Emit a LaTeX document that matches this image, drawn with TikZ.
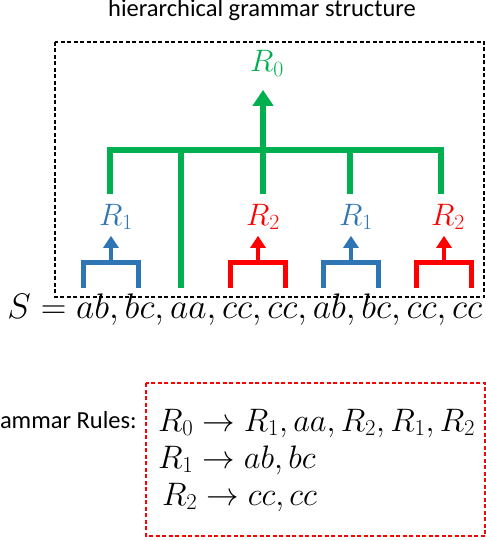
\RequirePackage{fix-cm}
\documentclass[tikz,border=0pt]{standalone}
\usepackage[no-math]{fontspec}
\setmainfont{Carlito}
\usetikzlibrary{arrows.meta, positioning}

\definecolor{ogreen}{RGB}{0,176,80}
\definecolor{oblue}{RGB}{46,117,182}
\definecolor{ored}{RGB}{255,0,0}

\begin{document}
\begin{tikzpicture}[
            x=1pt, y=-1pt,
            inner sep=0pt,
            trunk/.style={draw=ogreen, line width=5.5pt},
            bluebr/.style={draw=oblue, line width=5pt},
            redbr/.style={draw=ored, line width=5pt},
            bigup/.style={-{Triangle[width=20pt,length=16pt]}},
            smallup/.style={-{Triangle[width=15pt,length=12pt]}, line width=4pt},
            frame/.style={line width=1.2pt, dash pattern=on 4pt off 2.5pt}
        ]

        \tikzstyle{sym}=[font=\fontsize{31}{34}\selectfont]
        \tikzstyle{words}=[font=\fontsize{24.5}{28}\selectfont]
        \tikzstyle{formula}=[font=\fontsize{32.5}{36}\selectfont]

        \useasboundingbox (0,0) rectangle (486,540);

        % Tree over the sequence
        \node[words, anchor=base] (title) at (262,17) {hierarchical grammar structure};
        \draw[frame] (55,42) rectangle (484,297);

        \node[sym, text=ogreen, anchor=base] (r0) at (267,72) {$R_0$};
        \node[sym, text=oblue, anchor=base] (r1a) at (116,225) {$R_1$};
        \node[sym, text=ored, anchor=base] (r2a) at (263,225) {$R_2$};
        \node[sym, text=oblue, anchor=base] (r1b) at (356,225) {$R_1$};
        \node[sym, text=ored, anchor=base] (r2b) at (448,225) {$R_2$};

        \coordinate (bar) at (0,150);
        \coordinate (t1) at (110,194);
        \coordinate (t2) at (181,288);
        \coordinate (t3) at (263,194);
        \coordinate (t4) at (350,194);
        \coordinate (t5) at (441,194);

        \draw[trunk] (t1) -- (t1 |- bar) -- (t5 |- bar) -- (t5);
        \draw[trunk] (t2 |- bar) -- (t2);
        \draw[trunk] (t3 |- bar) -- (t3);
        \draw[trunk] (t4 |- bar) -- (t4);
        \draw[trunk, bigup, shorten >=13pt] (t3 |- bar) -- (t3 |- r0.south);

        % Brackets over the symbol pairs
        \coordinate (b1) at (111,262);
        \coordinate (b2) at (258,262);
        \coordinate (b3) at (351,262);
        \coordinate (b4) at (444,262);

        \draw[bluebr] (b1) ++(-27.5,26) |- ++(55,-26) -- ++(0,26);
        \draw[redbr] (b2) ++(-27.5,26) |- ++(55,-26) -- ++(0,26);
        \draw[bluebr] (b3) ++(-27.5,26) |- ++(55,-26) -- ++(0,26);
        \draw[redbr] (b4) ++(-27.5,26) |- ++(55,-26) -- ++(0,26);

        \draw[bluebr, smallup, shorten >=6pt] (b1) -- (b1 |- r1a.south);
        \draw[redbr, smallup, shorten >=6pt] (b2) -- (b2 |- r2a.south);
        \draw[bluebr, smallup, shorten >=6pt] (b3) -- (b3 |- r1b.south);
        \draw[redbr, smallup, shorten >=6pt] (b4) -- (b4 |- r2b.south);

        \node[anchor=base, font=\fontsize{35.5}{40}\selectfont] (seq) at (245,318)
            {$S=ab,bc,aa,cc,cc,ab,bc,cc,cc$};

        % Rules
        \node[words, anchor=base east] (gram) at (137,428) {Grammar Rules:};
        \draw[frame, draw=ored] (146,383) rectangle (485,536);
        \node[formula, anchor=base west] (rule0) at (158,431) {$R_0\to R_1,aa,R_2,R_1,R_2$};
        \node[formula, anchor=base west] (rule1) at (158,468) {$R_1\to ab,bc$};
        \node[formula, anchor=base west] (rule2) at (162,505) {$R_2\to cc,cc$};

    \end{tikzpicture}
\end{document}
